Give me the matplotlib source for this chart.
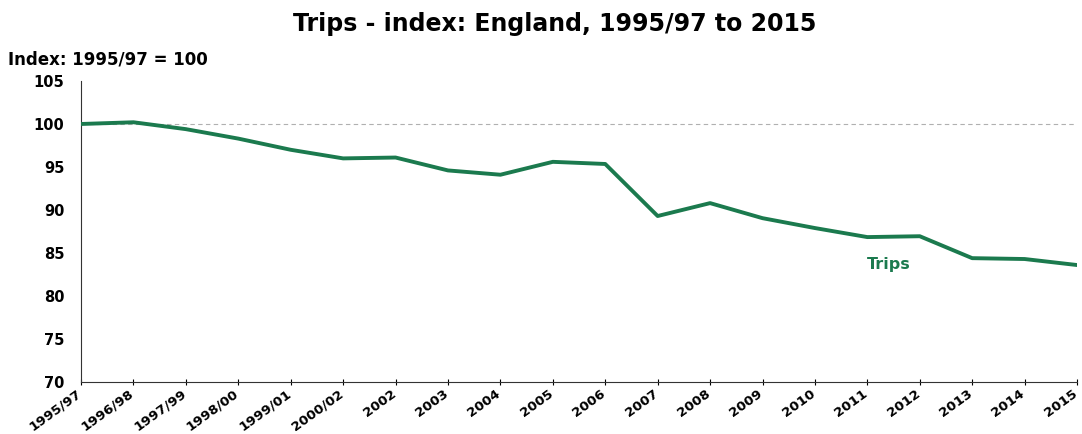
import matplotlib
matplotlib.use("Agg")
import matplotlib.pyplot as plt
from matplotlib.transforms import ScaledTranslation

plt.rcParams['font.family'] = ['DejaVu Sans']

categories = ["1995/97", "1996/98", "1997/99", "1998/00", "1999/01", "2000/02",
              "2002", "2003", "2004", "2005", "2006", "2007", "2008", "2009",
              "2010", "2011", "2012", "2013", "2014", "2015"]
trips = [100.0, 100.2, 99.4, 98.3, 97.0, 96.0, 96.1, 94.6, 94.1, 95.6, 95.35,
         89.3, 90.8, 89.05, 87.9, 86.85, 86.95, 84.4, 84.3, 83.6]
yticks = [70, 75, 80, 85, 90, 95, 100, 105]

green = "#1b7a4e"

fig = plt.figure(figsize=(10.82, 4.34), dpi=100)
ax = fig.add_axes([0.0749, 0.1198, 0.9205, 0.6936])

x = list(range(len(categories)))
ax.axhline(100, color="#b0b0b0", lw=0.8, ls=(0, (4, 3)), zorder=1)
ax.plot(x, trips, color=green, lw=2.8, zorder=3, solid_joinstyle="round")

ax.set_xlim(0, len(categories) - 1)
ax.set_ylim(70, 105)
ax.set_yticks(yticks)
ax.set_yticklabels([str(v) for v in yticks], fontsize=10.5, fontweight="bold")
ax.set_xticks(x)
ax.set_xticklabels(categories, rotation=36, ha="right", rotation_mode="anchor",
                   fontsize=9.6, fontweight="bold")
ax.tick_params(axis="y", length=0, pad=12)
ax.tick_params(axis="x", length=4, direction="inout", pad=1.5, width=0.8)

shift = ScaledTranslation(-5 / 100, 0, fig.dpi_scale_trans)
for lbl in ax.get_xticklabels():
    lbl.set_transform(lbl.get_transform() + shift)

for s in ["top", "right"]:
    ax.spines[s].set_visible(False)
for s in ["left", "bottom"]:
    ax.spines[s].set_linewidth(0.8)
    ax.spines[s].set_color("#333333")

ax.text(15.4, 83.7, "Trips", color=green, fontsize=11.5, fontweight="bold",
        ha="center", va="center")

fig.text(0.513, 0.945, "Trips - index: England, 1995/97 to 2015", ha="center",
         va="center", fontsize=17, fontweight="bold")
fig.text(0.007, 0.862, "Index: 1995/97 = 100", ha="left", va="center",
         fontsize=12, fontweight="bold")

fig.savefig("out.png", dpi=100)
